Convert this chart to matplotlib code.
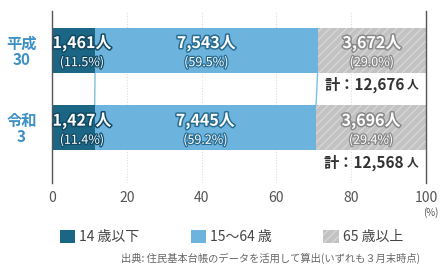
import matplotlib
matplotlib.use("Agg")
import matplotlib.pyplot as plt
import matplotlib.patheffects as pe
from matplotlib.patches import Patch

plt.rcParams['font.family'] = ['Noto Sans CJK JP', 'DejaVu Sans']
plt.rcParams['hatch.linewidth'] = 1.0

# data
years = ["平成\n30", "令和\n3"]
groups = ["14 歳以下", "15～64 歳", "65 歳以上"]
counts = [[1461, 7543, 3672], [1427, 7445, 3696]]
shares = [[11.5, 59.5, 29.0], [11.4, 59.2, 29.4]]
xticks = [0, 20, 40, 60, 80, 100]

colors = ["#1b6585", "#6cb4de", "#c2c2c2"]
strokes = ["#124a63", "#2b6d90", "#8a8a8a"]
hatches = [None, None, "////"]

fig = plt.figure(figsize=(4.41, 2.66), dpi=100)
ax = fig.add_axes([0.118, 0.312, 0.848, 0.648])

bar_h = 0.58
for i in range(len(years)):
    left = 0
    for j in range(len(groups)):
        w = shares[i][j]
        ax.barh(i, w, left=left, height=bar_h, color=colors[j],
                hatch=hatches[j], edgecolor="#d6d6d6" if hatches[j] else colors[j],
                linewidth=0, zorder=2)
        cx = left + w / 2 if j > 0 else 8
        eff = [pe.withStroke(linewidth=2.2, foreground=strokes[j])]
        ax.text(cx, i - 0.09, f"{counts[i][j]:,}人", ha="center", va="center",
                color="white", fontsize=11.5, fontweight="bold", path_effects=eff, zorder=4)
        ax.text(cx, i + 0.16, f"({shares[i][j]:.1f}%)", ha="center", va="center",
                color="white", fontsize=9, path_effects=[pe.withStroke(linewidth=1.8, foreground=strokes[j])], zorder=4)
        left += w
    total = sum(counts[i])
    ax.annotate("人", (98, i + 0.45), ha="right", va="center", fontsize=8.5,
                color="#333333", fontweight="bold", zorder=4)
    ax.annotate(f"計：{total:,}", (98, i + 0.45), xytext=(-10, 0), textcoords="offset points",
                ha="right", va="center", fontsize=11, color="#333333", fontweight="bold", zorder=4)

# connector lines between bars
for b in range(2):
    x0 = sum(shares[0][:b + 1])
    x1 = sum(shares[1][:b + 1])
    ax.plot([x0, x1], [bar_h / 2, 1 - bar_h / 2], color="#7fc0e2", lw=1, zorder=1)

ax.set_xlim(0, 100)
ax.set_ylim(1.71, -0.51)
ax.set_xticks(xticks)
ax.set_xticklabels([str(t) for t in xticks], fontsize=10, color="#555555")
ax.tick_params(axis="x", length=0, pad=6)
ax.set_yticks(range(len(years)))
ax.set_yticklabels(years, fontsize=11, fontweight="bold", color="#3d90c4", linespacing=1.0)
for lab in ax.get_yticklabels():
    lab.set_multialignment("center")
ax.tick_params(axis="y", length=0, pad=11)

for t in xticks[1:-1]:
    ax.axvline(t, color="#dddddd", lw=0.8, ls=(0, (1, 1.5)), zorder=0)
for s in ["top", "bottom"]:
    ax.spines[s].set_visible(False)
ax.spines["left"].set_color("#555555")
ax.spines["right"].set_color("#555555")
ax.spines["left"].set_linewidth(1)
ax.spines["right"].set_linewidth(1)

fig.text(0.978, 0.2, "(%)", ha="center", va="center", fontsize=7, color="#555555")

handles = [Patch(facecolor=colors[k], hatch=hatches[k], edgecolor="#d6d6d6" if hatches[k] else colors[k], linewidth=0)
           for k in range(3)]
fig.legend(handles, groups, ncol=3, loc="center", bbox_to_anchor=(0.525, 0.11), frameon=False,
           handlelength=1.1, handleheight=1.1, handletextpad=0.3, columnspacing=3.7,
           prop={"size": 10}, labelcolor="#444444")

fig.text(0.952, 0.03, "出典: 住民基本台帳のデータを活用して算出(いずれも３月末時点)",
         ha="right", va="center", fontsize=7.4, color="#666666")

fig.savefig("out.png", dpi=100)
